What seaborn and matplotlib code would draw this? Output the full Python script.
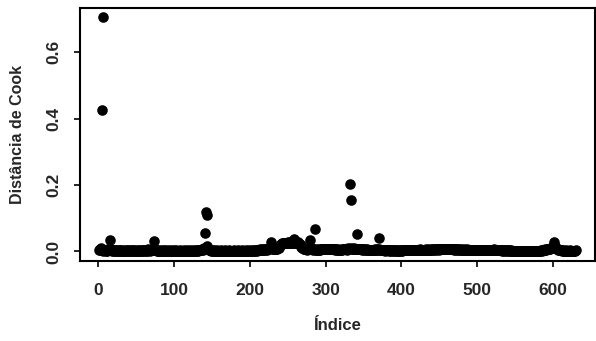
import numpy as np
import pandas as pd
import matplotlib
matplotlib.use("Agg")
import matplotlib.pyplot as plt
import seaborn as sns

cook_dist = [
    0.004, 0.006, 0.003, 0.010, 0.427, 0.002, 0.705, 0.005, 0.003, 0.002,
    0.004, 0.002, 0.006, 0.003, 0.008, 0.035, 0.004, 0.002, 0.003, 0.005,
    0.002, 0.001, 0.003, 0.004, 0.002, 0.001, 0.003, 0.002, 0.004, 0.001,
    0.002, 0.003, 0.001, 0.002, 0.004, 0.002, 0.001, 0.003, 0.002, 0.001,
    0.003, 0.002, 0.004, 0.001, 0.002, 0.003, 0.005, 0.002, 0.001, 0.002,
    0.003, 0.001, 0.002, 0.004, 0.002, 0.003, 0.001, 0.002, 0.005, 0.003,
    0.002, 0.004, 0.001, 0.003, 0.002, 0.006, 0.003, 0.002, 0.004, 0.005,
    0.003, 0.006, 0.008, 0.032, 0.005, 0.003, 0.002, 0.004, 0.001, 0.002,
    0.003, 0.002, 0.001, 0.002, 0.003, 0.001, 0.002, 0.004, 0.002, 0.001,
    0.002, 0.003, 0.001, 0.002, 0.001, 0.003, 0.002, 0.001, 0.002, 0.003,
    0.001, 0.002, 0.003, 0.001, 0.002, 0.002, 0.001, 0.003, 0.002, 0.001,
    0.002, 0.001, 0.003, 0.002, 0.001, 0.002, 0.003, 0.001, 0.002, 0.001,
    0.003, 0.002, 0.001, 0.002, 0.003, 0.002, 0.001, 0.002, 0.004, 0.002,
    0.003, 0.002, 0.004, 0.003, 0.005, 0.004, 0.006, 0.005, 0.008, 0.010,
    0.057, 0.120, 0.110, 0.018, 0.007, 0.005, 0.003, 0.004, 0.002, 0.003,
    0.002, 0.001, 0.003, 0.002, 0.001, 0.002, 0.003, 0.001, 0.002, 0.001,
    0.002, 0.003, 0.001, 0.002, 0.001, 0.002, 0.003, 0.001, 0.002, 0.001,
    0.002, 0.001, 0.003, 0.002, 0.001, 0.002, 0.001, 0.002, 0.003, 0.001,
    0.002, 0.001, 0.002, 0.003, 0.001, 0.002, 0.001, 0.002, 0.001, 0.003,
    0.002, 0.001, 0.002, 0.001, 0.003, 0.002, 0.001, 0.002, 0.003, 0.002,
    0.001, 0.002, 0.003, 0.002, 0.001, 0.003, 0.002, 0.004, 0.003, 0.002,
    0.004, 0.005, 0.006, 0.004, 0.005, 0.006, 0.005, 0.004, 0.006, 0.005,
    0.006, 0.007, 0.005, 0.006, 0.008, 0.010, 0.012, 0.030, 0.010, 0.008,
    0.007, 0.006, 0.008, 0.007, 0.006, 0.008, 0.010, 0.012, 0.015, 0.020,
    0.022, 0.025, 0.024, 0.026, 0.025, 0.027, 0.026, 0.025, 0.027, 0.028,
    0.026, 0.027, 0.028, 0.026, 0.025, 0.027, 0.029, 0.038, 0.027, 0.026,
    0.027, 0.025, 0.026, 0.028, 0.024, 0.022, 0.020, 0.015, 0.012, 0.010,
    0.008, 0.007, 0.006, 0.008, 0.006, 0.005, 0.007, 0.009, 0.012, 0.034,
    0.010, 0.006, 0.005, 0.007, 0.006, 0.068, 0.005, 0.004, 0.006, 0.005,
    0.004, 0.006, 0.005, 0.007, 0.006, 0.008, 0.007, 0.006, 0.008, 0.007,
    0.006, 0.008, 0.009, 0.007, 0.008, 0.009, 0.008, 0.007, 0.006, 0.007,
    0.006, 0.005, 0.007, 0.006, 0.005, 0.004, 0.006, 0.005, 0.004, 0.005,
    0.006, 0.005, 0.007, 0.006, 0.008, 0.007, 0.006, 0.005, 0.008, 0.010,
    0.009, 0.204, 0.156, 0.010, 0.008, 0.009, 0.010, 0.008, 0.007, 0.009,
    0.052, 0.008, 0.007, 0.006, 0.008, 0.007, 0.006, 0.005, 0.007, 0.006,
    0.005, 0.006, 0.004, 0.005, 0.006, 0.004, 0.005, 0.003, 0.004, 0.005,
    0.004, 0.003, 0.005, 0.004, 0.006, 0.005, 0.004, 0.006, 0.005, 0.007,
    0.040, 0.005, 0.004, 0.003, 0.005, 0.004, 0.003, 0.004, 0.002, 0.003,
    0.004, 0.003, 0.002, 0.004, 0.003, 0.002, 0.003, 0.004, 0.002, 0.003,
    0.002, 0.003, 0.004, 0.002, 0.003, 0.002, 0.001, 0.003, 0.002, 0.003,
    0.002, 0.003, 0.004, 0.003, 0.005, 0.004, 0.003, 0.004, 0.005, 0.004,
    0.003, 0.004, 0.005, 0.004, 0.003, 0.004, 0.003, 0.005, 0.004, 0.003,
    0.004, 0.005, 0.004, 0.006, 0.005, 0.004, 0.005, 0.004, 0.003, 0.004,
    0.005, 0.004, 0.006, 0.005, 0.004, 0.006, 0.005, 0.004, 0.005, 0.006,
    0.005, 0.006, 0.005, 0.007, 0.006, 0.005, 0.007, 0.006, 0.005, 0.006,
    0.007, 0.006, 0.008, 0.007, 0.006, 0.007, 0.008, 0.007, 0.006, 0.008,
    0.007, 0.008, 0.007, 0.006, 0.008, 0.007, 0.006, 0.007, 0.006, 0.005,
    0.006, 0.005, 0.007, 0.006, 0.005, 0.006, 0.005, 0.004, 0.006, 0.005,
    0.004, 0.005, 0.006, 0.005, 0.004, 0.005, 0.006, 0.004, 0.005, 0.004,
    0.005, 0.004, 0.003, 0.005, 0.004, 0.003, 0.004, 0.005, 0.004, 0.003,
    0.004, 0.003, 0.005, 0.004, 0.003, 0.004, 0.005, 0.004, 0.003, 0.004,
    0.005, 0.004, 0.003, 0.004, 0.003, 0.005, 0.004, 0.003, 0.004, 0.005,
    0.004, 0.006, 0.005, 0.004, 0.003, 0.004, 0.003, 0.004, 0.005, 0.004,
    0.003, 0.004, 0.002, 0.003, 0.004, 0.002, 0.003, 0.002, 0.004, 0.003,
    0.002, 0.003, 0.001, 0.002, 0.003, 0.001, 0.002, 0.001, 0.002, 0.001,
    0.000, 0.001, 0.002, 0.000, 0.001, 0.000, 0.001, 0.002, 0.000, 0.001,
    0.000, 0.001, 0.000, 0.002, 0.001, 0.000, 0.001, 0.000, 0.001, 0.002,
    0.000, 0.001, 0.000, 0.001, 0.002, 0.001, 0.000, 0.001, 0.000, 0.001,
    0.001, 0.002, 0.001, 0.003, 0.002, 0.004, 0.003, 0.005, 0.004, 0.006,
    0.005, 0.007, 0.006, 0.008, 0.007, 0.009, 0.010, 0.012, 0.015, 0.018,
    0.030, 0.016, 0.012, 0.010, 0.008, 0.006, 0.005, 0.004, 0.003, 0.004,
    0.003, 0.002, 0.003, 0.002, 0.001, 0.002, 0.003, 0.002, 0.001, 0.002,
    0.001, 0.002, 0.003, 0.001, 0.002, 0.001, 0.002, 0.001, 0.002, 0.003,
]
x_ticks = [0, 100, 200, 300, 400, 500, 600]
y_ticks = [0.0, 0.2, 0.4, 0.6]
y_tick_labels = ["0.0", "0.2", "0.4", "0.6"]
x_label = "Índice"
y_label = "Distância de Cook"

df = pd.DataFrame({"indice": np.arange(1, len(cook_dist) + 1), "cook": cook_dist})

sns.set_theme(style="white")
plt.rcParams["font.family"] = ["Liberation Sans", "DejaVu Sans"]

fig = plt.figure(figsize=(5.96, 3.41), dpi=100)
ax = fig.add_axes([0.134, 0.235, 0.864, 0.742])

sns.scatterplot(data=df, x="indice", y="cook", ax=ax, color="black",
                s=58, edgecolor="black", linewidth=0, legend=False)

n = len(cook_dist)
xr = n - 1
ax.set_xlim(1 - 0.04 * xr, n + 0.04 * xr)
ymax = max(cook_dist)
ymin = min(cook_dist)
yr = ymax - ymin
ax.set_ylim(ymin - 0.04 * yr, ymax + 0.04 * yr)

ax.set_xticks(x_ticks)
ax.set_xticklabels([str(t) for t in x_ticks], fontsize=12.5, fontweight="bold")
ax.set_yticks(y_ticks)
ax.set_yticklabels(y_tick_labels, fontsize=12.5, fontweight="bold",
                   rotation=90, va="center")
ax.tick_params(axis="x", direction="out", length=4, width=1.2,
               color="black", pad=12, bottom=True)
ax.tick_params(axis="y", direction="out", length=4, width=1.2,
               color="black", pad=9, left=True)
ax.set_xlabel(x_label, fontsize=12, fontweight="bold", labelpad=14)
ax.set_ylabel(y_label, fontsize=11.5, fontweight="bold", labelpad=16)
for sp in ax.spines.values():
    sp.set_visible(True)
    sp.set_color("black")
    sp.set_linewidth(1.5)

fig.savefig("out.png", dpi=100, facecolor="white")
